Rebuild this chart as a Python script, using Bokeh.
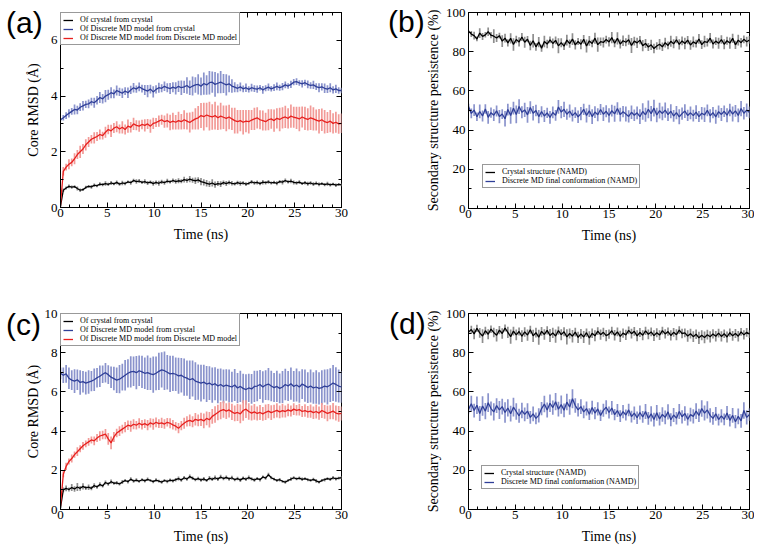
import numpy as np
from bokeh.plotting import figure
from bokeh.models import (Range1d, SingleIntervalTicker, LinearAxis, Legend,
                          LegendItem, Div, GridBox, CustomJSTickFormatter)
from bokeh.embed import file_html
from bokeh.resources import INLINE

# ---------------- data ----------------
time_ns = [round(0.3 * k, 1) for k in range(101)]

# Panel (a): core RMSD (Angstrom)
a_cry_mean = [0.05,0.62,0.70,0.76,0.73,0.75,0.68,0.62,0.64,0.72,
              0.76,0.74,0.80,0.78,0.84,0.82,0.86,0.83,0.88,0.85,
              0.90,0.84,0.88,0.86,0.92,0.89,0.97,0.93,0.95,0.90,
              0.93,0.88,0.91,0.86,0.90,0.87,0.92,0.89,0.95,0.92,
              0.97,0.93,0.96,0.94,1.00,0.97,1.02,0.98,0.96,0.99,
              0.93,0.90,0.87,0.84,0.88,0.82,0.86,0.84,0.89,0.86,
              0.90,0.87,0.85,0.89,0.86,0.88,0.84,0.87,0.92,0.88,
              0.90,0.86,0.91,0.89,0.92,0.88,0.90,0.87,0.93,0.91,
              0.97,0.92,0.95,0.90,0.88,0.91,0.86,0.89,0.85,0.88,
              0.84,0.87,0.83,0.86,0.82,0.85,0.81,0.84,0.80,0.83,
              0.81]
a_cry_err = [0.02,0.06,0.05,0.07,0.06,0.05,0.07,0.06,0.05,0.06,
             0.05,0.07,0.06,0.05,0.07,0.06,0.08,0.06,0.07,0.05,
             0.07,0.06,0.08,0.06,0.05,0.07,0.06,0.08,0.07,0.06,
             0.08,0.07,0.06,0.08,0.07,0.09,0.08,0.07,0.08,0.06,
             0.07,0.08,0.09,0.07,0.10,0.08,0.11,0.09,0.12,0.10,
             0.13,0.11,0.12,0.10,0.13,0.11,0.09,0.10,0.08,0.09,
             0.07,0.08,0.06,0.07,0.08,0.06,0.07,0.05,0.07,0.06,
             0.07,0.06,0.08,0.06,0.07,0.05,0.06,0.07,0.06,0.08,
             0.07,0.06,0.08,0.07,0.06,0.07,0.05,0.06,0.07,0.06,
             0.07,0.06,0.07,0.05,0.06,0.07,0.06,0.05,0.06,0.05,
             0.05]
a_dmd_cry_mean = [3.15,3.22,3.30,3.38,3.45,3.52,3.50,3.60,3.65,3.70,
                  3.72,3.80,3.76,3.85,3.95,3.90,4.00,4.05,4.12,4.08,
                  4.20,4.15,4.10,4.18,4.12,4.22,4.30,4.25,4.33,4.27,
                  4.22,4.18,4.25,4.15,4.24,4.30,4.28,4.35,4.30,4.27,
                  4.32,4.28,4.35,4.30,4.33,4.38,4.30,4.36,4.40,4.42,
                  4.35,4.45,4.40,4.48,4.50,4.42,4.46,4.50,4.45,4.40,
                  4.44,4.36,4.32,4.28,4.33,4.26,4.30,4.24,4.30,4.27,
                  4.25,4.30,4.22,4.28,4.32,4.26,4.30,4.35,4.30,4.34,
                  4.40,4.36,4.42,4.50,4.52,4.47,4.44,4.48,4.42,4.38,
                  4.40,4.34,4.30,4.33,4.28,4.25,4.30,4.22,4.26,4.20,
                  4.20]
a_dmd_cry_err = [0.05,0.10,0.12,0.15,0.12,0.18,0.15,0.14,0.17,0.13,
                 0.16,0.14,0.18,0.15,0.20,0.17,0.22,0.18,0.20,0.16,
                 0.18,0.15,0.17,0.14,0.19,0.15,0.17,0.13,0.16,0.14,
                 0.18,0.22,0.16,0.20,0.15,0.18,0.14,0.17,0.16,0.20,
                 0.18,0.22,0.20,0.26,0.22,0.30,0.26,0.34,0.28,0.36,
                 0.32,0.40,0.35,0.42,0.38,0.44,0.36,0.40,0.34,0.38,
                 0.30,0.24,0.18,0.14,0.16,0.12,0.15,0.11,0.14,0.12,
                 0.13,0.10,0.14,0.11,0.13,0.10,0.12,0.14,0.11,0.13,
                 0.12,0.10,0.13,0.11,0.12,0.10,0.13,0.11,0.14,0.12,
                 0.15,0.12,0.16,0.13,0.17,0.14,0.16,0.13,0.15,0.12,
                 0.10]
a_dmd_dmd_mean = [0.10,1.30,1.45,1.55,1.62,1.75,1.90,2.00,2.10,2.25,
                  2.35,2.45,2.50,2.55,2.62,2.58,2.70,2.80,2.75,2.85,
                  2.90,2.82,2.88,2.80,2.92,2.88,3.00,2.95,2.92,2.98,
                  2.95,3.00,2.92,3.02,3.05,3.10,3.15,3.08,3.12,3.05,
                  3.10,3.06,3.12,3.08,3.15,3.10,3.05,3.12,3.18,3.22,
                  3.30,3.26,3.32,3.28,3.25,3.30,3.22,3.28,3.24,3.20,
                  3.25,3.18,3.12,3.08,3.12,3.06,3.10,3.08,3.14,3.18,
                  3.22,3.15,3.12,3.08,3.15,3.18,3.12,3.20,3.16,3.22,
                  3.25,3.20,3.28,3.24,3.22,3.18,3.25,3.20,3.16,3.22,
                  3.18,3.14,3.10,3.15,3.08,3.05,3.10,3.02,3.06,3.00,
                  3.02]
a_dmd_dmd_err = [0.05,0.15,0.12,0.18,0.14,0.20,0.16,0.22,0.18,0.20,
                 0.18,0.15,0.20,0.16,0.18,0.14,0.20,0.17,0.22,0.18,
                 0.20,0.16,0.22,0.18,0.24,0.19,0.22,0.18,0.20,0.17,
                 0.22,0.18,0.24,0.20,0.16,0.20,0.18,0.22,0.25,0.28,
                 0.30,0.26,0.32,0.28,0.34,0.30,0.36,0.32,0.38,0.42,
                 0.45,0.50,0.44,0.52,0.46,0.50,0.44,0.48,0.42,0.46,
                 0.44,0.40,0.46,0.42,0.38,0.44,0.40,0.42,0.36,0.40,
                 0.38,0.34,0.36,0.32,0.38,0.35,0.40,0.36,0.42,0.38,
                 0.40,0.36,0.42,0.38,0.40,0.44,0.38,0.42,0.40,0.44,
                 0.42,0.38,0.44,0.40,0.42,0.38,0.40,0.36,0.38,0.35,
                 0.35]

# Panel (b): secondary structure persistence (%)
b_cry_mean = [90.5,89.0,88.2,86.5,89.5,87.8,88.6,90.2,88.4,87.9,
              87.0,88.2,85.4,86.9,84.5,86.8,83.7,86.2,85.0,87.5,
              84.8,86.4,83.2,85.6,82.5,84.9,81.8,85.2,83.9,86.0,
              84.2,85.8,83.0,84.6,82.8,85.9,84.1,86.4,83.5,85.2,
              83.8,86.3,82.9,85.5,84.2,86.9,83.6,85.1,84.7,86.2,
              85.0,87.2,84.3,86.8,83.9,85.6,84.8,86.1,83.2,85.4,
              84.5,85.9,83.1,84.2,82.4,83.5,81.6,82.9,83.8,82.5,
              84.6,83.2,85.3,84.0,86.1,83.7,85.5,84.2,85.9,83.4,
              85.0,84.1,86.5,83.6,85.2,84.8,86.9,83.9,85.4,84.3,
              86.2,83.8,85.6,84.4,86.8,83.5,85.9,84.6,86.3,85.1,
              86.0]
b_cry_err = [0.5,1.5,2.0,1.2,2.5,1.8,1.4,2.2,1.6,3.5,
             2.0,1.5,3.0,2.2,1.8,2.6,3.2,1.9,2.4,2.0,
             2.8,1.6,2.4,3.4,2.0,2.6,1.8,2.9,2.2,1.7,
             2.5,2.0,3.8,2.3,1.9,2.7,2.1,3.0,2.4,1.8,
             2.6,2.2,3.3,2.5,1.9,2.8,3.6,2.1,2.5,2.0,
             2.4,2.9,2.0,3.1,2.3,2.7,2.0,2.5,3.8,2.2,
             2.6,2.1,2.9,2.3,2.0,2.6,2.4,1.9,2.7,2.2,
             2.5,2.0,2.8,2.3,1.8,2.6,2.2,2.9,2.1,2.4,
             2.7,2.0,2.5,2.2,2.9,2.1,2.6,2.3,2.0,2.8,
             2.2,2.6,2.0,2.9,2.3,2.1,2.7,2.4,2.0,2.5,
             2.0]
b_dmd_mean = [52.0,48.5,50.2,46.8,49.5,47.2,50.8,46.5,48.9,47.6,
              49.8,46.9,48.2,45.8,50.5,47.5,51.2,48.0,52.0,49.1,
              50.3,47.8,51.5,48.6,50.0,46.9,49.4,47.2,48.8,46.5,
              49.0,47.5,51.8,49.2,50.6,48.1,49.7,47.4,48.9,46.8,
              48.4,50.6,47.5,49.8,46.9,49.2,47.8,50.5,48.1,49.6,
              47.5,49.9,48.3,51.0,47.9,49.4,48.2,47.0,49.1,47.6,
              48.8,46.9,49.5,47.8,50.6,48.4,51.2,47.7,49.9,48.5,
              50.2,47.9,49.6,47.2,48.9,46.8,48.4,49.7,47.5,48.8,
              47.4,49.2,46.9,48.6,47.8,50.1,47.3,48.9,46.8,49.4,
              48.0,49.6,47.6,50.3,48.2,49.8,47.5,51.0,48.6,50.2,
              49.0]
b_dmd_err = [1.5,2.5,3.0,2.2,3.5,2.8,2.4,3.2,2.6,3.0,
             2.8,3.4,2.5,3.9,3.0,4.2,3.3,4.5,3.8,3.1,
             3.6,4.0,3.2,3.7,2.9,3.4,2.8,3.1,2.6,3.3,
             3.0,2.7,3.5,3.1,3.9,2.8,3.3,3.0,2.7,3.2,
             3.4,2.9,3.6,3.1,3.8,3.0,3.3,2.8,3.5,3.1,
             3.6,3.0,4.1,3.2,3.5,2.9,3.8,3.1,3.4,2.9,
             3.3,3.8,4.2,3.6,4.5,3.9,4.3,3.7,4.0,3.5,
             3.9,3.2,3.6,3.0,3.4,3.8,3.1,3.5,2.9,3.3,
             3.0,3.5,2.8,3.2,3.7,3.0,3.4,2.9,3.6,3.1,
             3.3,2.9,3.6,3.2,3.8,3.0,3.5,3.9,3.2,3.4,
             3.0]

# Panel (c): core RMSD (Angstrom)
c_cry_mean = [0.10,1.00,1.08,1.02,1.12,1.05,1.15,1.08,1.18,1.10,
              1.14,1.08,1.22,1.15,1.28,1.20,1.38,1.30,1.42,1.34,
              1.36,1.30,1.40,1.48,1.42,1.55,1.45,1.50,1.44,1.52,
              1.46,1.54,1.48,1.42,1.50,1.45,1.40,1.48,1.43,1.50,
              1.46,1.52,1.58,1.50,1.62,1.55,1.68,1.60,1.52,1.58,
              1.50,1.56,1.48,1.60,1.54,1.62,1.55,1.66,1.58,1.64,
              1.56,1.62,1.52,1.58,1.50,1.60,1.54,1.63,1.56,1.50,
              1.58,1.52,1.66,1.60,1.78,1.62,1.55,1.48,1.52,1.44,
              1.40,1.48,1.55,1.62,1.56,1.60,1.54,1.58,1.52,1.48,
              1.54,1.46,1.40,1.48,1.52,1.58,1.54,1.62,1.56,1.60,
              1.62]
c_cry_err = [0.05,0.12,0.15,0.10,0.18,0.14,0.20,0.12,0.16,0.10,
             0.14,0.10,0.12,0.09,0.11,0.08,0.10,0.09,0.11,0.08,
             0.09,0.08,0.10,0.08,0.09,0.10,0.08,0.09,0.07,0.08,
             0.08,0.09,0.07,0.08,0.09,0.07,0.08,0.07,0.09,0.08,
             0.08,0.09,0.10,0.08,0.09,0.08,0.10,0.09,0.08,0.09,
             0.09,0.10,0.08,0.11,0.09,0.12,0.10,0.11,0.09,0.10,
             0.09,0.10,0.08,0.09,0.10,0.08,0.09,0.10,0.08,0.09,
             0.08,0.09,0.07,0.08,0.09,0.08,0.07,0.08,0.09,0.07,
             0.08,0.07,0.09,0.08,0.07,0.08,0.09,0.07,0.08,0.07,
             0.08,0.09,0.07,0.08,0.09,0.07,0.08,0.09,0.08,0.07,
             0.08]
c_dmd_cry_mean = [6.95,6.85,6.92,6.70,6.60,6.55,6.62,6.48,6.52,6.45,
                  6.50,6.55,6.62,6.72,6.80,6.90,6.98,6.88,6.75,6.68,
                  6.60,6.65,6.75,6.85,6.95,7.02,7.05,6.98,7.08,7.02,
                  6.95,6.98,6.92,6.88,6.95,7.05,7.12,7.08,7.00,6.92,
                  6.95,6.90,6.82,6.85,6.75,6.70,6.62,6.68,6.55,6.50,
                  6.45,6.50,6.40,6.45,6.35,6.42,6.30,6.38,6.28,6.35,
                  6.30,6.25,6.35,6.20,6.28,6.18,6.12,6.20,6.15,6.28,
                  6.30,6.38,6.25,6.35,6.40,6.30,6.22,6.28,6.18,6.25,
                  6.38,6.30,6.42,6.28,6.35,6.25,6.40,6.32,6.22,6.30,
                  6.20,6.25,6.18,6.22,6.30,6.26,6.35,6.45,6.38,6.30,
                  6.25]
c_dmd_cry_err = [0.30,0.40,0.45,0.55,0.50,0.60,0.52,0.62,0.55,0.58,
                 0.60,0.52,0.58,0.50,0.55,0.45,0.50,0.48,0.55,0.60,
                 0.65,0.72,0.68,0.78,0.72,0.80,0.75,0.85,0.78,0.82,
                 0.80,0.88,0.82,0.92,0.86,0.95,0.90,0.98,0.88,0.92,
                 0.90,0.85,0.92,0.88,0.95,0.90,0.98,0.92,0.96,0.90,
                 0.94,0.88,0.92,0.86,0.90,0.84,0.88,0.82,0.86,0.80,
                 0.84,0.78,0.82,0.76,0.80,0.74,0.78,0.72,0.76,0.80,
                 0.78,0.74,0.80,0.76,0.82,0.78,0.74,0.80,0.76,0.82,
                 0.80,0.76,0.82,0.78,0.84,0.80,0.76,0.82,0.78,0.84,
                 0.80,0.86,0.82,0.88,0.84,0.90,0.86,0.92,0.88,0.84,
                 0.80]
c_dmd_dmd_mean = [0.20,1.80,2.20,2.45,2.60,2.80,2.95,3.10,3.25,3.35,
                  3.45,3.55,3.50,3.65,3.75,3.80,3.85,3.60,3.40,3.70,
                  3.90,4.00,4.10,4.20,4.30,4.25,4.35,4.30,4.40,4.32,
                  4.38,4.30,4.42,4.35,4.45,4.38,4.42,4.36,4.45,4.40,
                  4.32,4.25,4.15,4.28,4.40,4.50,4.55,4.48,4.60,4.55,
                  4.60,4.52,4.65,4.58,4.75,4.85,4.95,5.05,5.10,5.02,
                  5.08,4.98,4.90,4.95,4.88,5.05,5.12,5.00,4.92,4.98,
                  4.90,4.95,4.88,4.96,5.02,4.94,5.00,5.06,4.98,5.04,
                  5.00,5.08,5.02,5.12,5.06,5.10,5.00,5.05,4.98,5.02,
                  4.94,5.00,4.92,5.05,4.98,4.90,4.96,5.02,4.92,4.88,
                  4.90]
c_dmd_dmd_err = [0.05,0.15,0.18,0.15,0.20,0.16,0.22,0.18,0.20,0.17,
                 0.20,0.18,0.22,0.20,0.24,0.22,0.26,0.30,0.32,0.26,
                 0.22,0.25,0.22,0.26,0.24,0.28,0.25,0.22,0.26,0.24,
                 0.22,0.26,0.24,0.28,0.25,0.22,0.26,0.24,0.22,0.25,
                 0.24,0.22,0.26,0.24,0.28,0.26,0.30,0.28,0.32,0.30,
                 0.34,0.38,0.35,0.40,0.38,0.42,0.40,0.44,0.42,0.40,
                 0.38,0.42,0.40,0.44,0.48,0.52,0.45,0.42,0.38,0.40,
                 0.36,0.38,0.35,0.40,0.36,0.38,0.34,0.36,0.32,0.35,
                 0.30,0.32,0.28,0.30,0.27,0.30,0.28,0.32,0.30,0.34,
                 0.32,0.36,0.34,0.38,0.35,0.40,0.36,0.42,0.38,0.40,
                 0.36]

# Panel (d): secondary structure persistence (%)
d_cry_mean = [90.5,91.8,89.6,92.4,90.1,88.5,91.2,89.4,92.0,90.3,
              88.9,91.5,89.8,92.6,90.4,88.2,91.0,89.1,90.8,88.4,
              90.6,89.0,91.7,88.6,90.2,87.9,90.9,89.3,91.4,88.8,
              90.1,88.5,91.3,89.2,90.7,88.1,89.8,88.4,90.5,87.8,
              89.6,88.0,90.2,87.5,89.9,88.6,91.0,89.2,90.4,88.7,
              89.5,91.2,88.9,90.6,88.3,90.0,89.1,91.4,89.7,90.9,
              88.6,90.3,88.9,91.1,89.4,90.6,88.7,90.2,89.0,91.3,
              89.6,90.8,88.8,90.4,89.2,91.5,89.8,90.1,88.5,89.7,
              88.2,89.4,87.6,88.9,87.8,89.2,88.1,89.6,88.4,90.0,
              88.3,89.7,88.0,90.2,88.6,89.8,88.4,90.6,89.1,90.4,
              89.5]
d_cry_err = [1.0,2.0,2.8,1.8,2.5,3.5,2.0,2.6,1.9,2.4,
             3.2,2.1,2.7,1.8,2.9,3.6,2.2,2.8,2.0,3.0,
             2.4,2.9,2.0,3.1,2.5,3.8,2.2,2.7,2.1,3.3,
             2.6,3.4,2.1,2.8,2.3,3.9,2.6,3.2,2.2,2.9,
             2.5,3.1,2.2,3.4,2.4,2.8,2.0,2.6,2.3,2.9,
             2.4,2.0,2.7,2.2,2.9,2.4,2.6,2.0,2.5,2.2,
             2.8,2.3,2.6,2.1,2.5,2.2,2.7,2.3,2.5,2.0,
             2.4,2.1,2.6,2.2,2.8,2.0,2.4,2.2,2.9,2.5,
             2.8,2.4,3.1,2.6,3.0,2.5,2.9,2.4,2.7,2.2,
             2.6,2.2,2.8,2.1,2.5,2.3,2.7,2.0,2.4,2.2,
             2.0]
d_dmd_mean = [51.0,54.0,50.5,53.2,49.0,52.8,50.2,54.5,51.5,49.8,
              53.0,50.8,52.5,49.5,51.8,48.9,52.2,50.0,47.8,50.5,
              48.5,50.2,47.0,48.8,46.5,48.0,51.5,53.8,50.8,54.2,
              52.0,55.0,51.2,53.5,50.6,54.8,52.3,56.5,53.0,50.8,
              52.5,49.8,51.5,48.6,52.0,49.2,51.3,48.0,50.6,52.2,
              49.5,51.8,48.4,50.5,47.6,49.9,48.2,50.8,47.4,49.2,
              46.8,49.5,47.2,50.0,46.5,48.8,45.9,49.3,46.2,48.5,
              47.0,49.8,45.8,48.2,46.6,50.0,47.3,49.0,46.0,48.4,
              47.5,50.2,48.0,51.5,49.2,50.8,48.0,46.5,48.8,45.9,
              47.8,46.0,49.2,45.5,48.0,44.8,47.5,45.2,50.5,47.0,
              48.5]
d_dmd_err = [2.0,4.0,3.5,4.5,3.8,5.0,4.2,4.8,3.6,4.4,
             3.8,4.6,4.0,5.2,4.4,4.0,4.8,4.2,3.6,4.0,
             3.5,4.0,3.2,3.8,3.0,3.6,3.4,4.2,3.8,4.5,
             3.6,4.4,3.8,4.6,3.5,4.2,3.9,4.8,3.7,3.4,
             3.8,3.2,3.6,3.0,3.5,3.1,3.4,2.9,3.3,3.6,
             3.1,3.5,2.9,3.3,3.0,3.4,2.8,3.2,3.0,3.4,
             3.2,3.6,3.0,3.8,3.3,3.9,3.5,4.0,3.4,3.7,
             3.5,3.9,3.3,3.6,3.2,3.8,3.4,3.7,3.1,3.5,
             3.6,4.0,3.4,4.2,3.8,4.4,3.6,3.2,3.5,3.0,
             3.4,3.0,3.6,3.2,3.8,3.4,4.0,3.5,4.2,3.6,
             3.2]

rmsd_labels = ["Of crystal from crystal",
               "Of Discrete MD model from crystal",
               "Of Discrete MD model from Discrete MD model"]
ss_labels = ["Crystal structure (NAMD)",
             "Discrete MD final conformation (NAMD)"]
panel_tags = ["(a)", "(b)", "(c)", "(d)"]

# ---------------- styling ----------------
SERIF = "Liberation Serif"
BLACK, GRAY = "#000000", "#8e8e8e"
BLUE, LBLUE = "#2f3f98", "#8a93cc"
RED, LRED = "#e8201e", "#f29a97"


def make_panel(ymax, yint, ylabel, series, labels, legend_loc,
               left, right, top, bottom, fh, ylab_standoff):
    p = figure(frame_width=281, frame_height=fh,
               min_border_left=left, min_border_right=right,
               min_border_top=top, min_border_bottom=bottom,
               x_range=Range1d(0, 30), y_range=Range1d(0, ymax),
               output_backend="svg", toolbar_location=None,
               x_axis_label="Time (ns)", y_axis_label=ylabel)
    p.xgrid.visible = False
    p.ygrid.visible = False
    p.outline_line_color = "black"
    p.outline_line_width = 1
    p.background_fill_color = "white"
    p.border_fill_color = "white"

    xt = SingleIntervalTicker(interval=5, num_minor_ticks=5)
    yt = SingleIntervalTicker(interval=yint, num_minor_ticks=2)
    p.xaxis.ticker = xt
    p.yaxis.ticker = yt
    for ax in (p.xaxis[0], p.yaxis[0]):
        ax.major_tick_in = 5
        ax.major_tick_out = 0
        ax.minor_tick_in = 3
        ax.minor_tick_out = 0
        ax.axis_line_color = "black"
        ax.major_label_text_font = SERIF
        ax.major_label_text_font_size = "13px"
        ax.major_label_text_color = "black"
        ax.axis_label_text_font = SERIF
        ax.axis_label_text_font_size = "14px"
        ax.axis_label_text_font_style = "normal"
        ax.axis_label_text_color = "black"
    p.xaxis.major_label_standoff = 1
    p.xaxis.axis_label_standoff = 7
    p.yaxis.major_label_standoff = 3
    p.yaxis.axis_label_standoff = ylab_standoff

    # mirrored ticks on top and right (no labels)
    for side, tk in (("above", xt), ("right", yt)):
        ax = LinearAxis(ticker=tk, major_tick_in=5, major_tick_out=0,
                        minor_tick_in=3, minor_tick_out=0,
                        formatter=CustomJSTickFormatter(code="return ''"),
                        major_label_standoff=0, axis_line_color=None)
        p.add_layout(ax, side)

    renderers = []
    for mean, err, lc, bc in series:
        m = np.array(mean)
        e = np.array(err)
        p.segment(x0=time_ns, y0=m - e, x1=time_ns, y1=m + e,
                  line_color=bc, line_width=1.7)
    for mean, err, lc, bc in series:
        r = p.line(time_ns, mean, line_color=lc, line_width=1.3)
        renderers.append(r)

    items = [LegendItem(label=lab, renderers=[r]) for lab, r in zip(labels, renderers)]
    leg = Legend(items=items, location=legend_loc, margin=0,
                 padding=2, spacing=0, label_height=8, glyph_height=8,
                 glyph_width=10, label_standoff=7,
                 label_text_font=SERIF, label_text_font_size="8px",
                 label_text_color="black",
                 border_line_color="#333333", border_line_width=1,
                 background_fill_color="white", background_fill_alpha=1)
    p.add_layout(leg, "center")
    return p


def make_tag(text, w, h, pad_left, pad_top):
    # panel letter, overlaid in the same grid cell as its panel
    return Div(text=text, width=w, height=h, align="start",
               styles={"font-family": "'Liberation Sans', Arial, sans-serif",
                       "font-size": "30px", "line-height": "30px",
                       "color": "black", "padding-left": f"{pad_left}px",
                       "padding-top": f"{pad_top}px", "overflow": "visible",
                       "pointer-events": "none"})


pa = make_panel(7, 2, "Core RMSD (Å)",
                [(a_cry_mean, a_cry_err, BLACK, GRAY),
                 (a_dmd_cry_mean, a_dmd_cry_err, BLUE, LBLUE),
                 (a_dmd_dmd_mean, a_dmd_dmd_err, RED, LRED)],
                rmsd_labels, "top_left",
                left=60, right=40, top=12, bottom=71, fh=195, ylab_standoff=7)
pb = make_panel(100, 20, "Secondary structure persistence (%)",
                [(b_cry_mean, b_cry_err, BLACK, GRAY),
                 (b_dmd_mean, b_dmd_err, BLUE, LBLUE)],
                ss_labels, (14, 20),
                left=87, right=5, top=11, bottom=71, fh=196, ylab_standoff=2)
pc = make_panel(10, 2, "Core RMSD (Å)",
                [(c_cry_mean, c_cry_err, BLACK, GRAY),
                 (c_dmd_cry_mean, c_dmd_cry_err, BLUE, LBLUE),
                 (c_dmd_dmd_mean, c_dmd_dmd_err, RED, LRED)],
                rmsd_labels, "top_left",
                left=60, right=40, top=35, bottom=42, fh=196, ylab_standoff=1)
pd_ = make_panel(100, 20, "Secondary structure persistence (%)",
                 [(d_cry_mean, d_cry_err, BLACK, GRAY),
                  (d_dmd_mean, d_dmd_err, BLUE, LBLUE)],
                 ss_labels, (13, 20),
                 left=87, right=5, top=35, bottom=42, fh=196, ylab_standoff=2)

ta = make_tag(panel_tags[0], 48, 44, 1, 3)
tb = make_tag(panel_tags[1], 48, 44, 2, 2)
tc = make_tag(panel_tags[2], 48, 70, 1, 27)
td = make_tag(panel_tags[3], 48, 70, 3, 26)

grid = GridBox(children=[(pa, 0, 0), (pb, 0, 1), (pc, 1, 0), (pd_, 1, 1),
                         (ta, 0, 0), (tb, 0, 1), (tc, 1, 0), (td, 1, 1)])
open("out.html", "w").write(file_html(grid, INLINE))
